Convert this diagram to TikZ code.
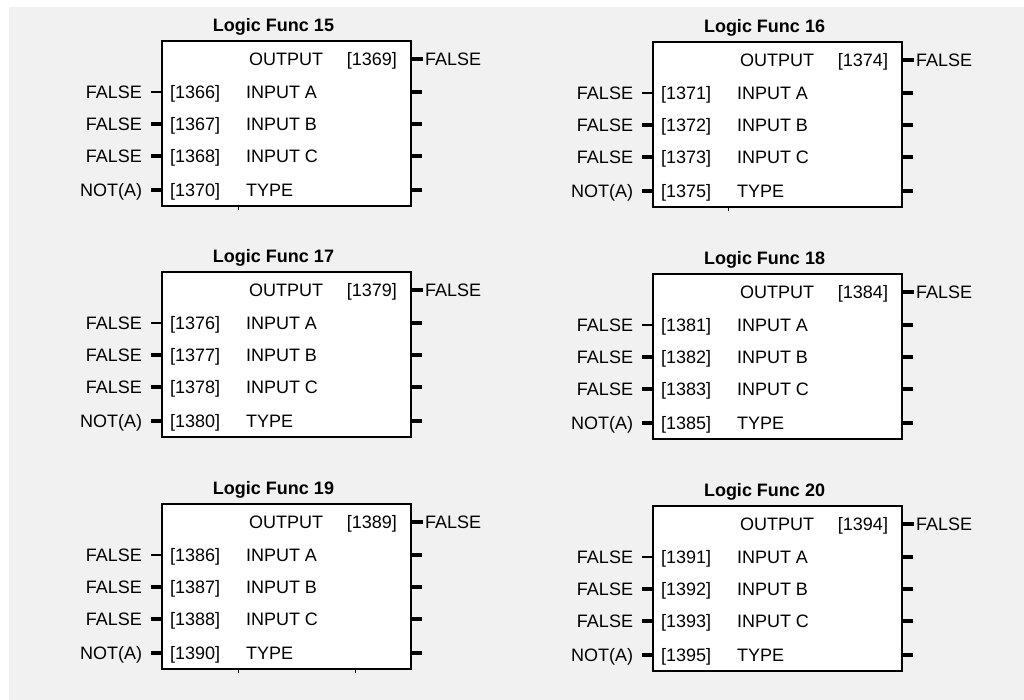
\documentclass[tikz,border=0pt]{standalone}
\usepackage{fontspec}
\setmainfont{Liberation Sans}
\definecolor{bggray}{RGB}{241,241,241}

\begin{document}
\begin{tikzpicture}[x=1pt,y=-1pt, line cap=butt,
    every node/.style={inner sep=0pt, outer sep=0pt, font=\fontsize{18}{21}\selectfont},
    funcbox/.style={draw, line width=2.4pt, fill=white, minimum width=249pt, minimum height=165pt, anchor=north west},
    functitle/.style={anchor=base, font=\fontsize{18}{21}\selectfont\bfseries},
    stub/.style={line width=3.2pt},
    thinstub/.style={line width=1.4pt}]

    % Background
    \useasboundingbox (0,0) rectangle (1024,700);
    \fill[bggray] (9,7) rectangle (1024,700);

    % Function blocks
    \foreach \n/\bx/\by/\po/\pa/\pb/\pc/\pt in {15/162/41/1369/1366/1367/1368/1370,
            16/653/42/1374/1371/1372/1373/1375, 17/162/272/1379/1376/1377/1378/1380,
            18/653/274/1384/1381/1382/1383/1385, 19/162/504/1389/1386/1387/1388/1390,
            20/653/506/1394/1391/1392/1393/1395}{
        \node[funcbox] (f\n) at (\bx,\by) {};
        \node[functitle] (t\n) at ([xshift=-13pt,yshift=9.5pt]f\n.north) {Logic Func \n};

        % Output row
        \node[anchor=base west] (o\n) at ([xshift=87pt,yshift=-24.4pt]f\n.north west) {OUTPUT};
        \node[anchor=base east] (op\n) at ([xshift=-14pt,yshift=-24.4pt]f\n.north east) {[\po]};
        \coordinate (oe\n) at ([xshift=12pt,yshift=-18pt]f\n.north east);
        \draw[stub] (oe\n -| f\n.east) -- (oe\n);
        \node[anchor=base west] (ov\n) at ([xshift=14pt,yshift=-24.4pt]f\n.north east) {FALSE};

        % Input rows
        \foreach \r/\dy/\lab/\pnum/\val in {A/51/INPUT A/\pa/FALSE, B/83/INPUT B/\pb/FALSE,
                C/115/INPUT C/\pc/FALSE, T/149/TYPE/\pt/NOT(A)}{
            \node[anchor=base west] (p\n\r) at ([xshift=8pt,yshift=-\dy pt-6.4pt]f\n.north west) {[\pnum]};
            \node[anchor=base west] (n\n\r) at ([xshift=84pt,yshift=-\dy pt-6.4pt]f\n.north west) {\lab};
            \node[anchor=base east] (v\n\r) at ([xshift=-20pt,yshift=-\dy pt-6.4pt]f\n.north west) {\val};
            \coordinate (s\n\r) at ([xshift=-11pt,yshift=-\dy pt]f\n.north west);
            \coordinate (e\n\r) at ([xshift=11pt,yshift=-\dy pt]f\n.north east);
            \draw[stub] (e\n\r -| f\n.east) -- (e\n\r);
        }
        \draw[thinstub] (s\n A) -- (s\n A -| f\n.west);
        \foreach \r in {B,C,T}
            \draw[stub] (s\n\r) -- (s\n\r -| f\n.west);
    }

    % Small ticks under some boxes
    \draw[line width=0.8pt] ([xshift=76pt]f15.south west) -- ++(0,4);
    \draw[line width=0.8pt] ([xshift=75pt]f16.south west) -- ++(0,4);
    \draw[line width=0.8pt] ([xshift=76pt]f19.south west) -- ++(0,4);
    \draw[line width=0.8pt] ([xshift=193pt]f19.south west) -- ++(0,4);
\end{tikzpicture}
\end{document}
